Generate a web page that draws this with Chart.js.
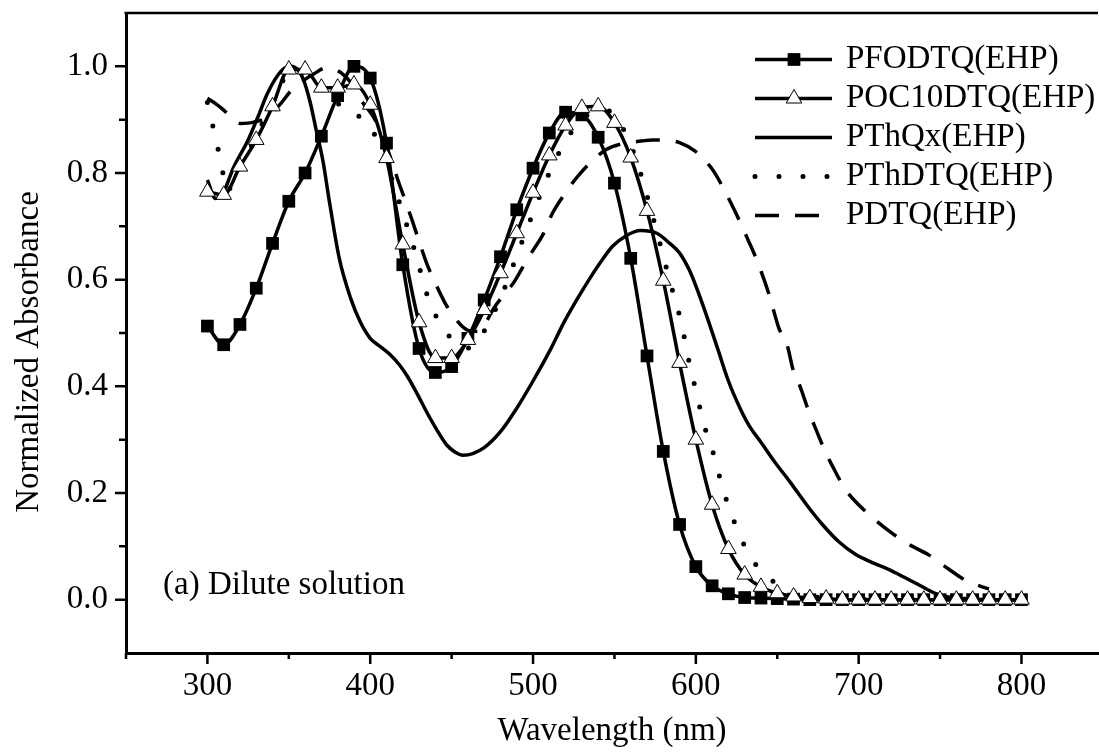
<!DOCTYPE html>
<html>
<head>
<meta charset="utf-8">
<script src="https://cdn.jsdelivr.net/npm/chart.js@4.4.0/dist/chart.umd.min.js"></script>
<style>
  html, body { margin: 0; padding: 0; background: #fff; }
  #wrap { width: 1099px; height: 752px; }
</style>
</head>
<body>
<div id="wrap"><canvas id="chart" width="1099" height="752"></canvas></div>
<script>
// Wavelengths (nm) of the marked series, one marker every 10 nm
const wlMarked = [300,310,320,330,340,350,360,370,380,390,400,410,420,430,440,450,460,470,480,490,
                  500,510,520,530,540,550,560,570,580,590,600,610,620,630,640,650,660,670,680,690,
                  700,710,720,730,740,750,760,770,780,790,800];

const pfodtq = [0.513,0.478,0.516,0.584,0.668,0.747,0.800,0.869,0.945,1.000,0.978,0.856,0.628,0.471,0.426,0.437,0.490,0.562,0.643,0.731,
                0.809,0.875,0.914,0.909,0.867,0.781,0.640,0.457,0.278,0.141,0.062,0.026,0.011,0.004,0.003,0.002,0.001,0,0,0,
                0,0,0,0,0,0,0,0,0,0,0];

const poc10dtq = [0.765,0.759,0.812,0.862,0.925,0.994,0.994,0.960,0.960,0.966,0.928,0.828,0.666,0.520,0.453,0.453,0.487,0.543,0.612,0.687,
                  0.763,0.833,0.889,0.922,0.925,0.894,0.829,0.729,0.598,0.444,0.300,0.178,0.095,0.047,0.024,0.012,0.006,0.003,0.002,0,
                  0,0,0,0,0,0,0,0,0,0,0];

// Unmarked curves
const wlPthqx = [300,305,310,316,325,331,337,345,351,356,359,363,367,371,375,381,388,394,400,406,
                 412,418,423,429,435,441,447,452,457,463,470,480,490,500,510,519,527,535,542,549,
                 557,566,576,584,590,596,602,608,614,620,627,633,640,648,658,668,678,688,698,708,
                 719,728,738,747,755,765,780,800];
const pthqx = [0.787,0.752,0.765,0.810,0.862,0.905,0.950,0.990,1.000,0.992,0.975,0.934,0.878,0.822,0.745,0.640,0.565,0.520,0.490,0.475,
               0.460,0.440,0.418,0.385,0.350,0.318,0.290,0.277,0.271,0.274,0.285,0.315,0.359,0.410,0.465,0.520,0.563,0.603,0.635,0.663,
               0.682,0.692,0.687,0.668,0.650,0.618,0.572,0.520,0.465,0.410,0.360,0.325,0.295,0.260,0.220,0.178,0.140,0.108,0.085,0.070,
               0.056,0.042,0.026,0.012,0.005,0.002,0,0];

const wlPthdtq = [300,302,304,308,312,316,320,330,340,348,355,362,370,378,383,390,396,401,406,411,
                  416,421,426,430,434,440,445,450,455,460,466,472,480,490,500,510,520,530,540,548,
                  555,561,567,571,575,579,583,587,591,594,597,601,604,609,613,617,622,628,637,650,
                  665,680,700,800];
const pthdtq = [0.932,0.915,0.875,0.828,0.765,0.785,0.812,0.868,0.935,0.980,0.992,0.980,0.955,0.935,0.925,0.915,0.897,0.880,0.853,0.810,
                0.763,0.716,0.668,0.625,0.580,0.534,0.508,0.489,0.475,0.472,0.485,0.515,0.565,0.645,0.725,0.800,0.860,0.900,0.918,0.915,
                0.885,0.845,0.790,0.747,0.702,0.656,0.609,0.565,0.520,0.475,0.428,0.382,0.337,0.293,0.248,0.204,0.159,0.113,0.065,0.029,
                0.010,0.003,0,0];

const wlPdtq = [300,305,310,314,320,328,337,345,351,357,365,373,378,382,388,395,402,410,418,421,
                426,430,435,439,446,453,460,466,471,476,483,488,494,500,506,512,519,527,535,545,
                555,564,574,582,590,600,606,611,618,625,632,637,645,651,656,660,664,669,673,679,
                684,692,700,710,719,730,743,755,767,775,780];
const pdtq = [0.940,0.930,0.918,0.906,0.893,0.895,0.905,0.930,0.953,0.969,0.985,0.997,0.995,0.988,0.970,0.934,0.905,0.850,0.778,0.753,
              0.709,0.672,0.628,0.600,0.556,0.524,0.505,0.503,0.520,0.547,0.575,0.594,0.625,0.655,0.684,0.725,0.759,0.792,0.819,0.844,
              0.855,0.859,0.862,0.861,0.857,0.840,0.822,0.803,0.765,0.722,0.675,0.640,0.572,0.509,0.478,0.428,0.400,0.356,0.325,0.281,
              0.250,0.206,0.178,0.150,0.128,0.105,0.084,0.058,0.034,0.025,0.020];

const seriesNames = ["PFODTQ(EHP)", "POC10DTQ(EHP)", "PThQx(EHP)", "PThDTQ(EHP)", "PDTQ(EHP)"];

// Axis ticks
const xMajorTicks = [300,400,500,600,700,800];
const xMinorTicks = [250,350,450,550,650,750];
const yMajorTicks = [0,0.2,0.4,0.6,0.8,1.0];
const yMinorTicks = [0.1,0.3,0.5,0.7,0.9];

const FONT = "'Liberation Serif', 'Times New Roman', serif";
const FS = 33;
Chart.defaults.font.family = FONT;
Chart.defaults.color = "#000";

const pts = (xs, ys) => xs.map((x, i) => ({ x, y: ys[i] }));

// Frame line on top plus major/minor tick marks outside the axes
const frameTicks = {
  id: "frameTicks",
  afterDraw(chart) {
    const { ctx, chartArea: a, scales: { x, y } } = chart;
    ctx.save();
    ctx.strokeStyle = "#000";
    ctx.lineWidth = 2.5;
    ctx.beginPath();
    ctx.moveTo(a.left - 1.5, a.top);
    ctx.lineTo(a.right, a.top);
    xMajorTicks.forEach(v => { const p = x.getPixelForValue(v); ctx.moveTo(p, a.bottom); ctx.lineTo(p, a.bottom + 11); });
    xMinorTicks.forEach(v => { const p = x.getPixelForValue(v); ctx.moveTo(p, a.bottom); ctx.lineTo(p, a.bottom + 6); });
    yMajorTicks.forEach(v => { const p = y.getPixelForValue(v); ctx.moveTo(a.left, p); ctx.lineTo(a.left - 11, p); });
    yMinorTicks.forEach(v => { const p = y.getPixelForValue(v); ctx.moveTo(a.left, p); ctx.lineTo(a.left - 7, p); });
    ctx.stroke();

    // y axis title, a little below the middle of the axis like the original
    ctx.fillStyle = "#000";
    ctx.font = FS + "px " + FONT;
    ctx.textAlign = "center";
    ctx.textBaseline = "alphabetic";
    ctx.translate(38, 352);
    ctx.rotate(-Math.PI / 2);
    ctx.fillText("Normalized Absorbance", 0, 0);
    ctx.restore();
  }
};

// Legend with line sample + marker, and the panel note
const legendNote = {
  id: "legendNote",
  afterDraw(chart) {
    const ctx = chart.ctx;
    ctx.save();
    chart.data.datasets.forEach((ds, i) => {
      const yy = 59.5 + i * 39;
      ctx.strokeStyle = "#000";
      ctx.lineWidth = ds.borderWidth;
      ctx.lineCap = ds.borderCapStyle || "butt";
      ctx.setLineDash(ds.borderDash || []);
      ctx.beginPath();
      ctx.moveTo(755, yy);
      ctx.lineTo(832, yy);
      ctx.stroke();
      ctx.setLineDash([]);
      ctx.lineCap = "butt";
      if (ds.pointRadius > 0) {
        ctx.fillStyle = ds.pointBackgroundColor;
        ctx.strokeStyle = ds.pointBorderColor;
        ctx.lineWidth = ds.pointBorderWidth;
        Chart.helpers.drawPoint(ctx, { pointStyle: ds.pointStyle, radius: ds.pointRadius, borderWidth: ds.pointBorderWidth, rotation: 0 }, 794, yy);
      }
      ctx.fillStyle = "#000";
      ctx.font = FS + "px " + FONT;
      ctx.textBaseline = "middle";
      ctx.textAlign = "left";
      ctx.fillText(ds.label, 846, yy);
    });
    ctx.font = FS + "px " + FONT;
    ctx.textBaseline = "alphabetic";
    ctx.fillText("(a) Dilute solution", 163, 594);
    ctx.restore();
  }
};

new Chart(document.getElementById("chart"), {
  type: "line",
  data: {
    datasets: [
      { label: seriesNames[0], data: pts(wlMarked, pfodtq), order: 1,
        borderColor: "#000", borderWidth: 3.5, tension: 0.4, cubicInterpolationMode: "monotone",
        pointStyle: "rect", pointRadius: 9, pointBackgroundColor: "#000", pointBorderColor: "#000", pointBorderWidth: 0 },
      { label: seriesNames[1], data: pts(wlMarked, poc10dtq), order: 0,
        borderColor: "#000", borderWidth: 3.5, tension: 0.4, cubicInterpolationMode: "monotone",
        pointStyle: "triangle", pointRadius: 9, pointBackgroundColor: "#fff", pointBorderColor: "#000", pointBorderWidth: 1 },
      { label: seriesNames[2], data: pts(wlPthqx, pthqx), order: 2,
        borderColor: "#000", borderWidth: 3.5, tension: 0.4, cubicInterpolationMode: "monotone", pointRadius: 0 },
      { label: seriesNames[3], data: pts(wlPthdtq, pthdtq), order: 3,
        borderColor: "#000", borderWidth: 5, borderDash: [0, 24], borderCapStyle: "round",
        tension: 0.4, cubicInterpolationMode: "monotone", pointRadius: 0 },
      { label: seriesNames[4], data: pts(wlPdtq, pdtq), order: 4,
        borderColor: "#000", borderWidth: 3.5, borderDash: [24, 16],
        tension: 0.4, cubicInterpolationMode: "monotone", pointRadius: 0 }
    ]
  },
  options: {
    responsive: false,
    animation: false,
    devicePixelRatio: 1,
    layout: { autoPadding: false, padding: { top: 13, right: 1, left: 0, bottom: 0 } },
    plugins: { legend: { display: false }, tooltip: { enabled: false } },
    scales: {
      x: {
        type: "linear", min: 250, max: 847,
        grid: { display: false, drawTicks: false },
        border: { display: true, color: "#000", width: 3 },
        ticks: {
          stepSize: 50, includeBounds: false, autoSkip: false, maxRotation: 0, padding: 14,
          font: { size: FS }, color: "#000",
          callback: v => xMajorTicks.includes(v) ? String(v) : null
        },
        title: { display: true, text: "Wavelength (nm)", font: { size: FS }, color: "#000", padding: { top: 0, bottom: 1 } },
        afterFit: s => { s.height = 99; s.paddingLeft = 0; s.paddingRight = 0; }
      },
      y: {
        type: "linear", min: -0.1, max: 1.1,
        grid: { display: false, drawTicks: false },
        border: { display: true, color: "#000", width: 3 },
        ticks: {
          stepSize: 0.1, includeBounds: false, autoSkip: false, padding: 18,
          font: { size: FS }, color: "#000",
          callback: v => {
            const k = Math.round(v * 10);
            return yMajorTicks.some(t => Math.round(t * 10) === k) ? (k / 10).toFixed(1) : null;
          }
        },
        title: { display: false },
        afterFit: s => { s.width = 126; s.paddingTop = 0; s.paddingBottom = 0; }
      }
    }
  },
  plugins: [frameTicks, legendNote]
});
</script>
</body>
</html>
